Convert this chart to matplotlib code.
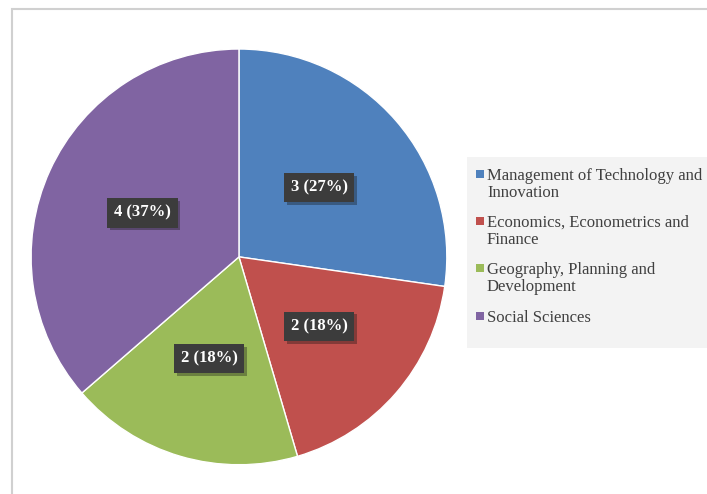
import numpy as np
import matplotlib.pyplot as plt
import matplotlib.patheffects as pe
from matplotlib.patches import Rectangle

fields = ["Management of Technology and\nInnovation",
          "Economics, Econometrics and\nFinance",
          "Geography, Planning and\nDevelopment",
          "Social Sciences"]
counts = [3, 2, 2, 4]
shares = [27, 18, 18, 37]
colors = ["#4F81BD", "#C0504D", "#9BBB59", "#8064A2"]

plt.rcParams['font.family'] = ['Liberation Serif', 'DejaVu Serif']

W, H = 707, 494
fig = plt.figure(figsize=(W / 100, H / 100), dpi=100)
fig.patch.set_facecolor("white")

def px(x, y):
    # pixel position (from top-left) to figure fraction
    return x / W, 1 - y / H

# outer chart border
fig.patches.append(Rectangle((12 / W, -0.01), 1.0, 1 - 9 / H + 0.01,
                             transform=fig.transFigure, fill=False,
                             edgecolor="#d0d0d0", linewidth=1.5))

ax = fig.add_axes([0.044, 0.059, 0.588, 0.842])
wedges, _ = ax.pie(counts, colors=colors, startangle=90, counterclock=False,
                   wedgeprops=dict(edgecolor="white", linewidth=1.0))
ax.set_xlim(-1.0, 1.0)
ax.set_ylim(-1.0, 1.0)
ax.set_aspect("equal")

for w, n, p in zip(wedges, counts, shares):
    ang = np.deg2rad((w.theta1 + w.theta2) / 2)
    x, y = 0.51 * np.cos(ang), 0.51 * np.sin(ang)
    ax.text(x, y, f"{n} ({p}%)", ha="center", va="center", color="white",
            fontsize=12, fontweight="bold",
            bbox=dict(boxstyle="square,pad=0.4", facecolor="#3c3c3c",
                      edgecolor="none",
                      path_effects=[pe.SimplePatchShadow(offset=(2, -2), alpha=0.35),
                                    pe.Normal()]))

# legend panel
x0, y0 = px(467, 348)
x1, y1 = px(707, 157)
fig.patches.append(Rectangle((x0, y0), x1 - x0 + 0.01, y1 - y0,
                             transform=fig.transFigure, facecolor="#f3f3f3",
                             edgecolor="none"))
rows = [174, 221, 268, 316]
for c, label, ry in zip(colors, fields, rows):
    sx, sy = px(476, ry + 4)
    fig.patches.append(Rectangle((sx, sy), 8 / W, 8 / H,
                                 transform=fig.transFigure, facecolor=c,
                                 edgecolor="none"))
    tx, ty = px(487, ry - 6)
    fig.text(tx, ty, label, ha="left", va="top", fontsize=12,
             color="#404040", linespacing=1.05)

fig.savefig("out.png", dpi=100)
